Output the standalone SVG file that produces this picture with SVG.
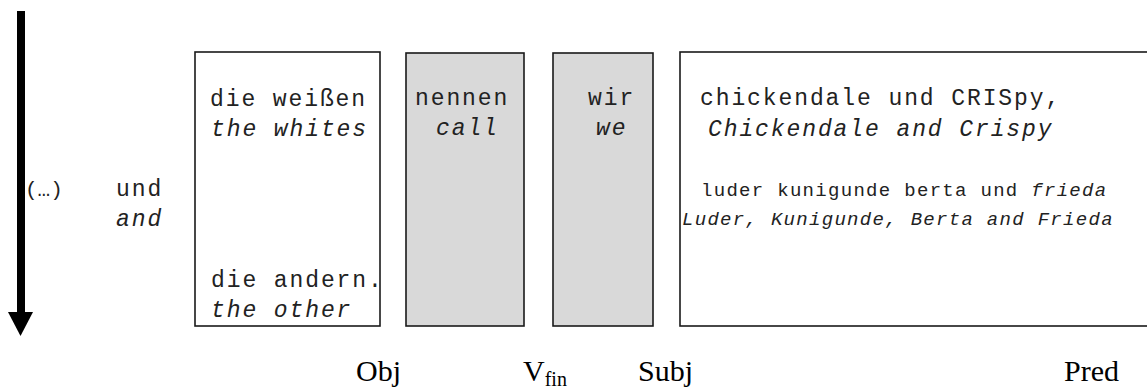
<svg xmlns="http://www.w3.org/2000/svg" width="1147" height="391" viewBox="0 0 1147 391">
<style>
.box{fill:#ffffff;stroke:#1a1a1a;stroke-width:1.6}
.gbox{fill:#d9d9d9;stroke:#1a1a1a;stroke-width:1.6}
.m{font-family:"Liberation Mono","DejaVu Sans Mono",monospace;font-size:23px;letter-spacing:1.9px;fill:#222}
.s{font-family:"Liberation Mono","DejaVu Sans Mono",monospace;font-size:19px;letter-spacing:1.3px;fill:#222}
.i{font-style:italic}
.lab{font-family:"Liberation Serif","Times New Roman",serif;font-size:30px;fill:#000}
.sub{font-size:20px}
</style>
<rect width="1147" height="391" fill="#ffffff"/>
<g id="connectors">
  <g id="time-arrow">
    <rect x="17" y="11" width="8" height="303" fill="#000"/>
    <polygon points="8,312 33,312 20.5,336" fill="#000"/>
  </g>
</g>
<g id="prefix">
  <text class="s" x="25" y="196" style="font-size:21px;letter-spacing:0">(…)</text>
  <text class="m" x="116" y="196">und</text>
  <text class="m i" x="116" y="226">and</text>
</g>
<g id="obj">
  <rect class="box" x="195" y="52" width="185" height="274"/>
  <text class="m" x="210" y="106">die weißen</text>
  <text class="m i" x="211" y="136">the whites</text>
  <text class="m" x="211" y="287">die andern.</text>
  <text class="m i" x="211" y="317">the other</text>
</g>
<g id="vfin">
  <rect class="gbox" x="406" y="53" width="118" height="273"/>
  <text class="m" x="415" y="105">nennen</text>
  <text class="m i" x="436" y="135">call</text>
</g>
<g id="subj">
  <rect class="gbox" x="553" y="53" width="100" height="273"/>
  <text class="m" x="588" y="105">wir</text>
  <text class="m i" x="596" y="135">we</text>
</g>
<g id="pred">
  <rect class="box" x="680" y="52" width="470" height="274"/>
  <text class="m" x="700" y="105">chickendale und CRISpy,</text>
  <text class="m i" x="708" y="136">Chickendale and Crispy</text>
  <text class="s" x="701" y="196">luder kunigunde berta und <tspan class="i">frieda</tspan></text>
  <text class="s i" x="682" y="225">Luder, Kunigunde, Berta and Frieda</text>
</g>
<g id="labels">
  <text class="lab" x="356" y="381">Obj</text>
  <text class="lab" x="523" y="381">V<tspan class="sub" dy="5">fin</tspan></text>
  <text class="lab" x="638" y="381">Subj</text>
  <text class="lab" x="1064" y="381">Pred</text>
</g>
</svg>
